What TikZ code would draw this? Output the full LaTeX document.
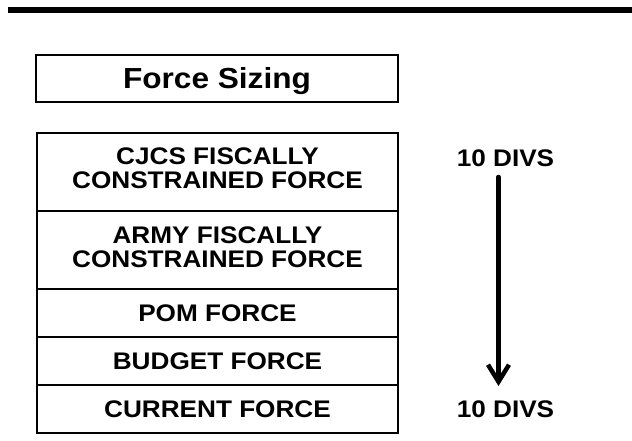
\documentclass[tikz,border=0pt]{standalone}
\usepackage{fontspec}
\setmainfont[FakeStretch=1.09]{Liberation Sans}
\usetikzlibrary{arrows.meta}
\begin{document}
\begin{tikzpicture}[x=1pt,y=-1pt,
  rowbox/.style={draw,line width=2pt,rectangle,inner sep=0pt,minimum width=361pt},
  rowtext/.style={font=\bfseries\fontsize{24}{24}\selectfont,align=center,inner sep=0pt},
  divtext/.style={font=\bfseries\fontsize{24}{24}\selectfont,inner sep=0pt}]
\useasboundingbox (0,0) rectangle (632,441);
% top rule
\fill (8,7) rectangle (632,13);
% title box
\node[rowbox,minimum width=362pt,minimum height=47pt] (title) at (217,78.5) {};
\node[font=\bfseries\fontsize{29}{29}\selectfont,inner sep=0pt,anchor=base] (titletext) at (217,89) {Force Sizing};
% stacked rows
\node[rowbox,minimum height=78pt] (r1) at (217.5,172) {};
\node[rowbox,minimum height=78pt] (r2) at (217.5,250) {};
\node[rowbox,minimum height=48pt] (r3) at (217.5,313) {};
\node[rowbox,minimum height=48pt] (r4) at (217.5,361) {};
\node[rowbox,minimum height=48pt] (r5) at (217.5,409) {};
\node[rowtext] (t1) at ([yshift=3.5pt]r1.center) {CJCS FISCALLY\\CONSTRAINED FORCE};
\node[rowtext] (t2) at ([yshift=2.5pt]r2.center) {ARMY FISCALLY\\CONSTRAINED FORCE};
\node[rowtext] (t3) at (r3.center) {POM FORCE};
\node[rowtext] (t4) at (r4.center) {BUDGET FORCE};
\node[rowtext] (t5) at (r5.center) {CURRENT FORCE};
% divisions
\node[divtext] (d1) at (505.5,158.5) {10 DIVS};
\node[divtext] (d2) at (505.5,409.5) {10 DIVS};
\coordinate (a1) at (498.5,177);
\coordinate (a2) at (498.5,386);
\draw[line width=4.5pt,line cap=round,-{Straight Barb[length=17pt,width=21pt]}] (a1) -- (a2);
\end{tikzpicture}
\end{document}
